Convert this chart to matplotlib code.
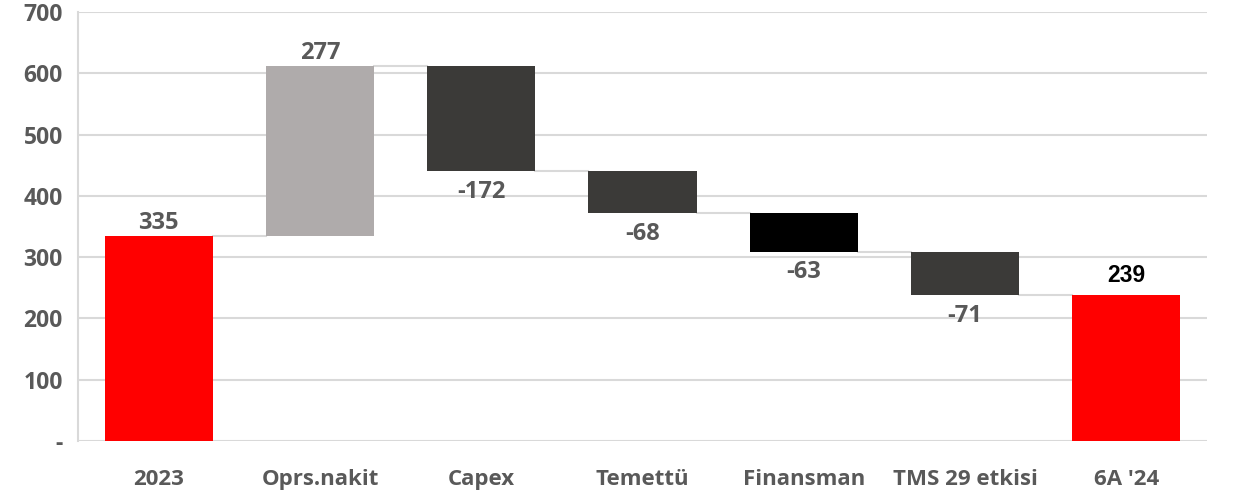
import numpy as np
import matplotlib
matplotlib.use('Agg')
import matplotlib.pyplot as plt

# ── data ─────────────────────────────────────────────────────────────────────
categories = ['2023', 'Oprs.nakit', 'Capex', 'Temettü', 'Finansman',
              'TMS 29 etkisi', "6A '24"]
start_value = 335
deltas = [277, -172, -68, -63, -71]
end_value = 239
bar_colors = ['#FF0000', '#AFABAB', '#3B3A38', '#3B3A38', '#000000',
              '#3B3A38', '#FF0000']

# ── build waterfall bottoms / heights ────────────────────────────────────────
bottoms = [0]
heights = [start_value]
level = start_value
levels = [level]
for d in deltas:
    if d >= 0:
        bottoms.append(level)
        heights.append(d)
    else:
        bottoms.append(level + d)
        heights.append(-d)
    level += d
    levels.append(level)
bottoms.append(0)
heights.append(end_value)
levels.append(end_value)

labels = [str(start_value)] + [str(d) for d in deltas] + [str(end_value)]

plt.rcParams['font.family'] = ['Open Sans', 'DejaVu Sans']
TXT = '#595959'

fig = plt.figure(figsize=(12.35, 4.95), dpi=100)
ax = fig.add_axes([0.0632, 0.1091, 0.9141, 0.8667])

x = np.arange(len(categories))
width = 0.67
ax.bar(x, heights, bottom=bottoms, width=width, color=bar_colors, zorder=3)

# connector lines between bars
for i in range(len(categories) - 1):
    ax.plot([x[i] + width / 2, x[i + 1] - width / 2], [levels[i], levels[i]],
            color='#D9D9D9', linewidth=1.5, zorder=2)

# value labels
for i, lab in enumerate(labels):
    top = bottoms[i] + heights[i]
    if i == len(labels) - 1:
        ax.text(x[i], top + 12, lab, ha='center', va='bottom', fontsize=16.5,
                fontweight='bold', color='black', family='Liberation Sans')
    elif i == 0 or deltas[i - 1] >= 0:
        ax.text(x[i], top + 1, lab, ha='center', va='bottom', fontsize=17,
                fontweight='bold', color=TXT)
    else:
        ax.text(x[i], bottoms[i] - 14, lab, ha='center', va='top', fontsize=17,
                fontweight='bold', color=TXT)

ax.set_xlim(-0.5, len(categories) - 0.5)
ax.set_ylim(0, 700)
yt = np.arange(0, 701, 100)
ax.set_yticks(yt)
ax.set_yticklabels(['-'] + [str(v) for v in yt[1:]])
ax.set_xticks(x)
ax.set_xticklabels(categories)

ax.grid(axis='y', color='#D9D9D9', linewidth=1.5, zorder=0)
ax.set_axisbelow(True)
for s in ['top', 'right', 'bottom']:
    ax.spines[s].set_visible(False)
ax.spines['left'].set_color('#D9D9D9')
ax.spines['left'].set_linewidth(1.5)
ax.tick_params(axis='both', length=0, labelcolor=TXT)
ax.tick_params(axis='y', pad=11, labelsize=16.5)
ax.tick_params(axis='x', pad=20, labelsize=16)
for t in ax.get_xticklabels() + ax.get_yticklabels():
    t.set_fontweight('bold')

fig.savefig('out.png', dpi=100)
